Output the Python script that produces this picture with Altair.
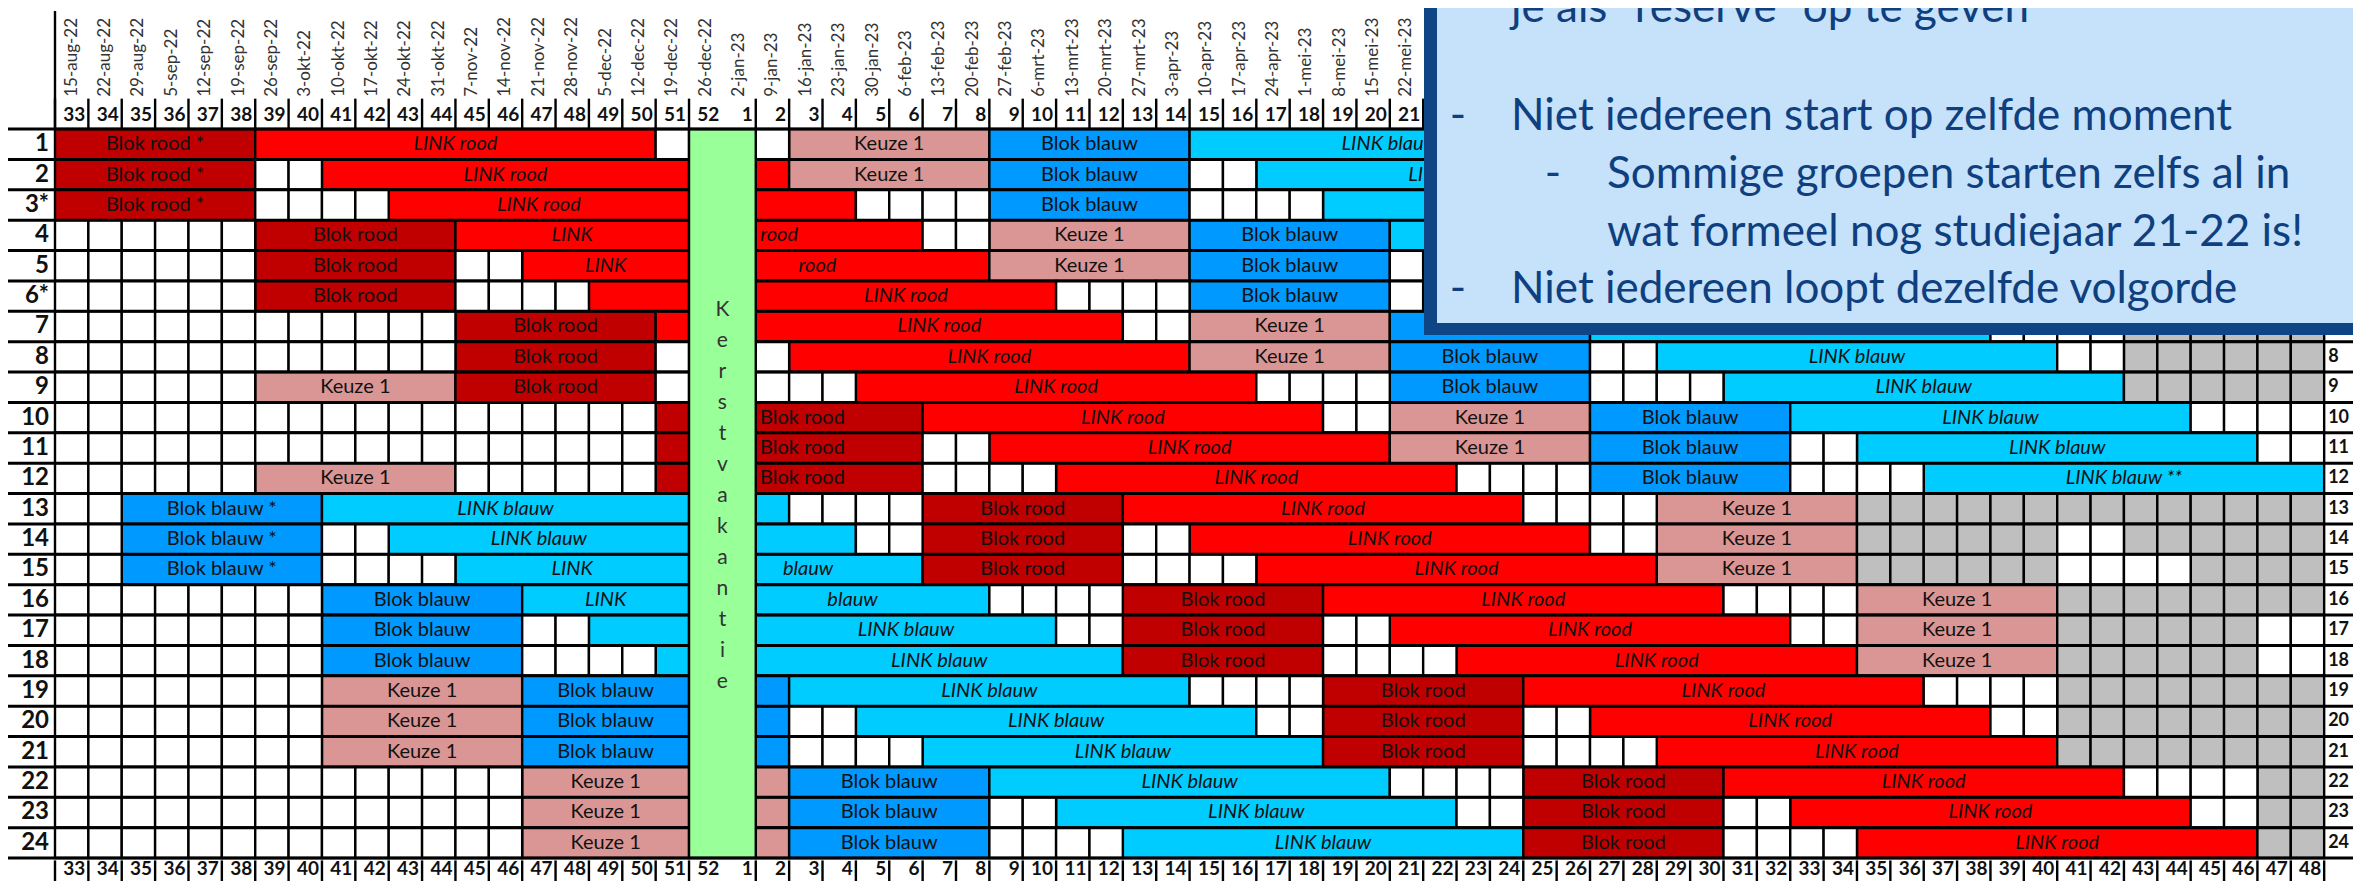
import altair as alt
import pandas as pd

# ---------------- data ----------------
WEEK_LABELS = [str(w) for w in range(33, 53)] + [str(w) for w in range(1, 49)]
DATE_LABELS = [
    "15-aug-22", "22-aug-22", "29-aug-22", "5-sep-22", "12-sep-22", "19-sep-22",
    "26-sep-22", "3-okt-22", "10-okt-22", "17-okt-22", "24-okt-22", "31-okt-22",
    "7-nov-22", "14-nov-22", "21-nov-22", "28-nov-22", "5-dec-22", "12-dec-22",
    "19-dec-22", "26-dec-22", "2-jan-23", "9-jan-23", "16-jan-23", "23-jan-23",
    "30-jan-23", "6-feb-23", "13-feb-23", "20-feb-23", "27-feb-23", "6-mrt-23",
    "13-mrt-23", "20-mrt-23", "27-mrt-23", "3-apr-23", "10-apr-23", "17-apr-23",
    "24-apr-23", "1-mei-23", "8-mei-23", "15-mei-23", "22-mei-23", "29-mei-23",
    "5-jun-23", "12-jun-23", "19-jun-23", "26-jun-23", "3-jul-23", "10-jul-23",
    "17-jul-23", "24-jul-23", "31-jul-23", "7-aug-23", "14-aug-23", "21-aug-23",
    "28-aug-23", "4-sep-23", "11-sep-23", "18-sep-23", "25-sep-23", "2-okt-23",
    "9-okt-23", "16-okt-23", "23-okt-23", "30-okt-23", "6-nov-23", "13-nov-23",
    "20-nov-23", "27-nov-23",
]
ROW_LABELS_LEFT = ["1", "2", "3*", "4", "5", "6*"] + [str(i) for i in range(7, 25)]
ROW_LABELS_RIGHT = [str(i) for i in range(1, 25)]
HOLIDAY_WEEKS = ["52", "1"]
HOLIDAY_TEXT = "Kerstvakantie"

KIND_COLOR = {"BR": "#C00000", "LR": "#FF0000", "K": "#DA9694",
              "BB": "#0099FF", "LB": "#00CCFF", "G": "#BFBFBF"}
HOLIDAY_COLOR = "#99FF99"

# per group: (first column, last column, kind, label)
SCHEDULE = [
    [(0, 5, "BR", "Blok rood *"), (6, 17, "LR", "LINK rood"), (22, 27, "K", "Keuze 1"), (28, 33, "BB", "Blok blauw"), (34, 45, "LB", "LINK blauw"), (48, 53, "BR", "Blok rood"), (54, 65, "LR", "LINK rood")],
    [(0, 5, "BR", "Blok rood *"), (8, 18, "LR", "LINK rood"), (21, 21, "LR", ""), (22, 27, "K", "Keuze 1"), (28, 33, "BB", "Blok blauw"), (36, 47, "LB", "LINK blauw"), (50, 55, "BR", "Blok rood"), (56, 67, "LR", "LINK rood")],
    [(0, 5, "BR", "Blok rood *"), (10, 18, "LR", "LINK rood"), (21, 23, "LR", ""), (28, 33, "BB", "Blok blauw"), (38, 49, "LB", "LINK blauw"), (52, 57, "BR", "Blok rood"), (58, 67, "LR", "LINK rood")],
    [(6, 11, "BR", "Blok rood"), (12, 18, "LR", "LINK"), (21, 25, "LR", "rood"), (28, 33, "K", "Keuze 1"), (34, 39, "BB", "Blok blauw"), (40, 51, "LB", "LINK blauw"), (52, 57, "BR", "Blok rood"), (58, 67, "LR", "LINK rood")],
    [(6, 11, "BR", "Blok rood"), (14, 18, "LR", "LINK"), (21, 27, "LR", "rood"), (28, 33, "K", "Keuze 1"), (34, 39, "BB", "Blok blauw"), (42, 53, "LB", "LINK blauw"), (54, 59, "BR", "Blok rood"), (60, 67, "LR", "LINK rood")],
    [(6, 11, "BR", "Blok rood"), (16, 18, "LR", ""), (21, 29, "LR", "LINK rood"), (34, 39, "BB", "Blok blauw"), (44, 55, "LB", "LINK blauw"), (56, 61, "BR", "Blok rood"), (62, 67, "LR", "LINK rood")],
    [(12, 17, "BR", "Blok rood"), (18, 18, "LR", ""), (21, 31, "LR", "LINK rood"), (34, 39, "K", "Keuze 1"), (40, 45, "BB", "Blok blauw"), (46, 57, "LB", "LINK blauw"), (62, 67, "G", "")],
    [(12, 17, "BR", "Blok rood"), (22, 33, "LR", "LINK rood"), (34, 39, "K", "Keuze 1"), (40, 45, "BB", "Blok blauw"), (48, 59, "LB", "LINK blauw"), (62, 67, "G", "")],
    [(6, 11, "K", "Keuze 1"), (12, 17, "BR", "Blok rood"), (24, 35, "LR", "LINK rood"), (40, 45, "BB", "Blok blauw"), (50, 61, "LB", "LINK blauw"), (62, 67, "G", "")],
    [(18, 18, "BR", ""), (21, 25, "BR", "Blok rood"), (26, 37, "LR", "LINK rood"), (40, 45, "K", "Keuze 1"), (46, 51, "BB", "Blok blauw"), (52, 63, "LB", "LINK blauw")],
    [(18, 18, "BR", ""), (21, 25, "BR", "Blok rood"), (28, 39, "LR", "LINK rood"), (40, 45, "K", "Keuze 1"), (46, 51, "BB", "Blok blauw"), (54, 65, "LB", "LINK blauw")],
    [(6, 11, "K", "Keuze 1"), (18, 18, "BR", ""), (21, 25, "BR", "Blok rood"), (30, 41, "LR", "LINK rood"), (46, 51, "BB", "Blok blauw"), (56, 67, "LB", "LINK blauw **")],
    [(2, 7, "BB", "Blok blauw *"), (8, 18, "LB", "LINK blauw"), (21, 21, "LB", ""), (26, 31, "BR", "Blok rood"), (32, 43, "LR", "LINK rood"), (48, 53, "K", "Keuze 1"), (54, 67, "G", "")],
    [(2, 7, "BB", "Blok blauw *"), (10, 18, "LB", "LINK blauw"), (21, 23, "LB", ""), (26, 31, "BR", "Blok rood"), (34, 45, "LR", "LINK rood"), (48, 53, "K", "Keuze 1"), (54, 59, "G", ""), (62, 67, "G", "")],
    [(2, 7, "BB", "Blok blauw *"), (12, 18, "LB", "LINK"), (21, 25, "LB", "blauw"), (26, 31, "BR", "Blok rood"), (36, 47, "LR", "LINK rood"), (48, 53, "K", "Keuze 1"), (54, 59, "G", ""), (64, 67, "G", "")],
    [(8, 13, "BB", "Blok blauw"), (14, 18, "LB", "LINK"), (21, 27, "LB", "blauw"), (32, 37, "BR", "Blok rood"), (38, 49, "LR", "LINK rood"), (54, 59, "K", "Keuze 1"), (60, 67, "G", "")],
    [(8, 13, "BB", "Blok blauw"), (16, 18, "LB", ""), (21, 29, "LB", "LINK blauw"), (32, 37, "BR", "Blok rood"), (40, 51, "LR", "LINK rood"), (54, 59, "K", "Keuze 1"), (60, 65, "G", "")],
    [(8, 13, "BB", "Blok blauw"), (18, 18, "LB", ""), (21, 31, "LB", "LINK blauw"), (32, 37, "BR", "Blok rood"), (42, 53, "LR", "LINK rood"), (54, 59, "K", "Keuze 1"), (60, 65, "G", "")],
    [(8, 13, "K", "Keuze 1"), (14, 18, "BB", "Blok blauw"), (21, 21, "BB", ""), (22, 33, "LB", "LINK blauw"), (38, 43, "BR", "Blok rood"), (44, 55, "LR", "LINK rood"), (60, 67, "G", "")],
    [(8, 13, "K", "Keuze 1"), (14, 18, "BB", "Blok blauw"), (21, 21, "BB", ""), (24, 35, "LB", "LINK blauw"), (38, 43, "BR", "Blok rood"), (46, 57, "LR", "LINK rood"), (60, 67, "G", "")],
    [(8, 13, "K", "Keuze 1"), (14, 18, "BB", "Blok blauw"), (21, 21, "BB", ""), (26, 37, "LB", "LINK blauw"), (38, 43, "BR", "Blok rood"), (48, 59, "LR", "LINK rood"), (60, 67, "G", "")],
    [(14, 18, "K", "Keuze 1"), (21, 21, "K", ""), (22, 27, "BB", "Blok blauw"), (28, 39, "LB", "LINK blauw"), (44, 49, "BR", "Blok rood"), (50, 61, "LR", "LINK rood"), (66, 67, "G", "")],
    [(14, 18, "K", "Keuze 1"), (21, 21, "K", ""), (22, 27, "BB", "Blok blauw"), (30, 41, "LB", "LINK blauw"), (44, 49, "BR", "Blok rood"), (52, 63, "LR", "LINK rood"), (66, 67, "G", "")],
    [(14, 18, "K", "Keuze 1"), (21, 21, "K", ""), (22, 27, "BB", "Blok blauw"), (32, 43, "LB", "LINK blauw"), (44, 49, "BR", "Blok rood"), (54, 65, "LR", "LINK rood"), (66, 67, "G", "")],
]
# labels of split bars that are not centred on their piece: (row, first column) -> centre
LABEL_CENTER = {(4, 21): 21.7, (5, 21): 22.85, (10, 21): 22.4, (11, 21): 22.4,
                (12, 21): 22.4, (15, 21): 22.57, (16, 21): 23.9}

NOTE_LINES = ["je als \u201creserve\u201d op te geven",
              "Niet iedereen start op zelfde moment",
              "Sommige groepen starten zelfs al in",
              "wat formeel nog studiejaar 21-22 is!",
              "Niet iedereen loopt dezelfde volgorde"]
NOTE_LEVEL = [1, 1, 2, 2, 1]
NOTE_BULLET = [False, True, True, False, True]
NOTE_BASELINE_PX = [22, 130, 188, 246, 303]

# ---------------- layout (pixel -> data units) ----------------
W, H = 2345, 873
CW, RH = 33.37, 30.375          # column width, row height in px
GX, GY = 47, 121                # grid origin inside the svg
X_DOMAIN = [-GX / CW, (W - GX) / CW]
Y_DOMAIN = [-GY / RH, (H - GY) / RH]
NCOL = len(WEEK_LABELS)
NROW = len(SCHEDULE)
HOL = [WEEK_LABELS.index(HOLIDAY_WEEKS[0]), WEEK_LABELS.index(HOLIDAY_WEEKS[1])]


def cx(px):
    return (px - 8 - GX) / CW


def cy(py):
    return (py - 8 - GY) / RH


def xs():
    return alt.Scale(domain=X_DOMAIN, nice=False, zero=False)


def ys():
    return alt.Scale(domain=Y_DOMAIN, nice=False, zero=False, reverse=True)


FONT = "Lato"

# ---------------- tables ----------------
cells, labels = [], []
for r, segs in enumerate(SCHEDULE, start=1):
    covered = set()
    for a, b, kind, lab in segs:
        if kind == "G":
            for i in range(a, b + 1):
                cells.append(dict(x0=i, x1=i + 1, y0=r - 1, y1=r, fill=KIND_COLOR["G"]))
                covered.add(i)
        else:
            cells.append(dict(x0=a, x1=b + 1, y0=r - 1, y1=r, fill=KIND_COLOR[kind]))
            covered.update(range(a, b + 1))
        if lab:
            c = LABEL_CENTER.get((r, a), (a + b + 1) / 2)
            labels.append(dict(tx=c, ty=r - 0.5, t=lab,
                               italic=kind in ("LR", "LB")))
    for i in range(NCOL):
        if i not in covered and i not in HOL:
            cells.append(dict(x0=i, x1=i + 1, y0=r - 1, y1=r, fill="#FFFFFF"))
cells.append(dict(x0=HOL[0], x1=HOL[1] + 1, y0=0, y1=NROW, fill=HOLIDAY_COLOR))
cells_df = pd.DataFrame(cells)
lab_df = pd.DataFrame(labels)

hrules = []
left = cx(5)
right = cx(2400)
for k in range(NROW + 1):
    if k in (0, NROW):
        hrules.append(dict(x0=left, x1=right, y=k))
    else:
        hrules.append(dict(x0=left, x1=HOL[0], y=k))
        hrules.append(dict(x0=HOL[1] + 1, x1=right, y=k))
hr_df = pd.DataFrame(hrules)

vrules = [dict(x=0, y0=Y_DOMAIN[0] + 0.1, y1=0)]
for i in range(NCOL + 1):
    if i == HOL[1]:
        continue
    vrules.append(dict(x=i, y0=-1, y1=0))
    vrules.append(dict(x=i, y0=NROW + 0.08, y1=NROW + 1.5))
vr_df = pd.DataFrame(vrules)

weeks_df = pd.DataFrame(
    [dict(tx=i + 1, ty=-0.47, t=w) for i, w in enumerate(WEEK_LABELS)]
    + [dict(tx=i + 1, ty=NROW + 0.37, t=w) for i, w in enumerate(WEEK_LABELS)])
dates_df = pd.DataFrame([dict(tx=i + 0.5, ty=-1.06, t=d) for i, d in enumerate(DATE_LABELS)])
rl_df = pd.DataFrame([dict(tx=0, ty=r + 0.5, t=t) for r, t in enumerate(ROW_LABELS_LEFT)])
rr_df = pd.DataFrame([dict(tx=NCOL, ty=r + 0.5, t=t) for r, t in enumerate(ROW_LABELS_RIGHT)])
kerst_df = pd.DataFrame([dict(tx=HOL[0] + 1, ty=5.95 + k * 1.02, t=ch)
                         for k, ch in enumerate(HOLIDAY_TEXT)])

box_df = pd.DataFrame([
    dict(x0=cx(1424), x1=cx(2420), y0=cy(-40), y1=cy(335), fill="#0E4585"),
    dict(x0=cx(1437), x1=cx(2354), y0=cy(-40), y1=cy(323), fill="#C5E2FA"),
])
note_rows, bullet_rows = [], []
for t, lvl, bul, base in zip(NOTE_LINES, NOTE_LEVEL, NOTE_BULLET, NOTE_BASELINE_PX):
    xt = cx(1511) if lvl == 1 else cx(1607)
    note_rows.append(dict(tx=xt, ty=cy(base), t=t))
    if bul:
        bullet_rows.append(dict(tx=cx(1458) if lvl == 1 else cx(1553), ty=cy(base), t="-"))
note_df = pd.DataFrame(note_rows)
bul_df = pd.DataFrame(bullet_rows)


# ---------------- layers ----------------
def rect_layer(df, clip=False, sw=2.4):
    return alt.Chart(df).mark_rect(stroke="black", strokeWidth=sw, clip=clip).encode(
        x=alt.X("x0:Q", scale=xs(), axis=None), x2="x1:Q",
        y=alt.Y("y0:Q", scale=ys(), axis=None), y2="y1:Q",
        fill=alt.Fill("fill:N", scale=None))


def text_layer(df, **kw):
    return alt.Chart(df).mark_text(font=FONT, **kw).encode(
        x=alt.X("tx:Q", scale=xs(), axis=None),
        y=alt.Y("ty:Q", scale=ys(), axis=None),
        text="t:N")


cells_layer = rect_layer(cells_df)
hr_layer = alt.Chart(hr_df).mark_rule(color="black", strokeWidth=3).encode(
    x=alt.X("x0:Q", scale=xs(), axis=None), x2="x1:Q",
    y=alt.Y("y:Q", scale=ys(), axis=None))
vr_layer = alt.Chart(vr_df).mark_rule(color="black", strokeWidth=2.4).encode(
    x=alt.X("x:Q", scale=xs(), axis=None),
    y=alt.Y("y0:Q", scale=ys(), axis=None), y2="y1:Q")

lab_norm = text_layer(lab_df[~lab_df["italic"]], fontSize=20, align="center",
                      baseline="middle", color="#111111")
lab_ital = text_layer(lab_df[lab_df["italic"]], fontSize=20, fontStyle="italic",
                      align="center", baseline="middle", color="#111111")
weeks_layer = text_layer(weeks_df, fontSize=19, fontWeight="bold", align="right",
                         baseline="middle", dx=-3, color="#111111")
dates_layer = text_layer(dates_df, fontSize=17, angle=270, align="left",
                         baseline="middle", color="#333333")
rl_layer = text_layer(rl_df, fontSize=24, fontWeight="bold", align="right",
                      baseline="middle", dx=-6, color="#111111")
rr_layer = text_layer(rr_df, fontSize=18, fontWeight="bold", align="left",
                      baseline="middle", dx=4, color="#111111")
kerst_layer = text_layer(kerst_df, fontSize=21, align="center", baseline="middle",
                         color="#333333")

box_layer = rect_layer(box_df, clip=True, sw=0)
note_layer = text_layer(note_df, fontSize=44, align="left", baseline="alphabetic",
                        color="#0F3F7F")
bul_layer = text_layer(bul_df, fontSize=44, align="center", baseline="alphabetic",
                       color="#0F3F7F")

chart = alt.layer(
    cells_layer, hr_layer, vr_layer, lab_norm, lab_ital, weeks_layer, dates_layer,
    rl_layer, rr_layer, kerst_layer, box_layer, note_layer, bul_layer
).properties(
    width=W, height=H, padding=0,
    autosize=alt.AutoSizeParams(type="none"),
).configure_view(strokeWidth=0)

chart.save("out.html", embed_options={"renderer": "svg", "actions": False})
